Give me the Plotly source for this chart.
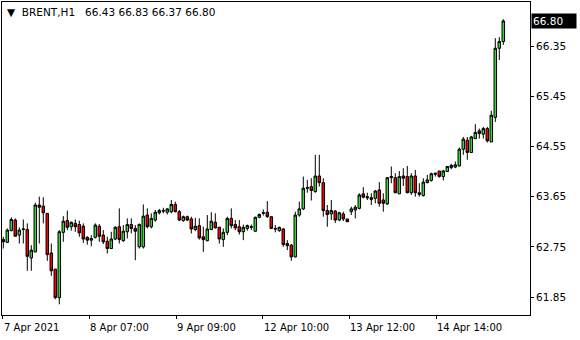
import plotly.graph_objects as go

symbol_title = "BRENT,H1"
last_ohlc = [66.43, 66.83, 66.37, 66.80]

opens = [62.88, 62.83, 63.04, 63.23, 62.96, 63.06, 63.06, 62.55, 62.66, 63.50,
         63.48, 63.35, 62.64, 62.35, 61.84, 63.01, 63.22, 63.11, 63.17, 63.15,
         63.12, 62.92, 62.87, 62.92, 63.12, 62.96, 62.85, 62.72, 62.89, 63.11,
         62.86, 63.02, 63.15, 63.08, 62.75, 62.75, 63.32, 63.11, 63.23, 63.36,
         63.39, 63.37, 63.38, 63.51, 63.38, 63.22, 63.29, 63.25, 63.06, 63.13,
         62.93, 62.86, 63.06, 63.19, 63.10, 62.88, 63.01, 63.26, 63.15, 63.11,
         63.02, 63.08, 63.10, 63.03, 63.28, 63.35, 63.37, 63.29, 63.08, 63.04,
         63.07, 62.81, 62.78, 62.57, 63.32, 63.43, 63.80, 63.83, 63.74, 64.02,
         63.90, 63.40, 63.34, 63.39, 63.23, 63.34, 63.25, 63.38, 63.41, 63.44,
         63.70, 63.65, 63.63, 63.62, 63.77, 63.59, 63.52, 63.99, 63.99, 63.70,
         64.02, 64.01, 63.72, 64.02, 63.72, 63.67, 63.90, 63.94, 64.05, 64.11,
         64.01, 64.10, 64.17, 64.18, 64.20, 64.50, 64.66, 64.44, 64.69, 64.83,
         64.77, 64.87, 64.63, 65.07, 66.31, 66.43]
highs = [62.93, 63.08, 63.28, 63.26, 63.10, 63.24, 63.17, 62.78, 63.54, 63.65,
         63.64, 63.35, 62.81, 62.35, 63.05, 63.30, 63.40, 63.20, 63.24, 63.22,
         63.17, 62.94, 62.96, 63.17, 63.16, 63.05, 62.93, 63.02, 63.12, 63.44,
         63.14, 63.26, 63.26, 63.14, 63.17, 63.51, 63.44, 63.35, 63.41, 63.43,
         63.45, 63.44, 63.59, 63.56, 63.41, 63.31, 63.31, 63.29, 63.27, 63.26,
         63.11, 63.32, 63.37, 63.35, 63.11, 63.08, 63.29, 63.44, 63.23, 63.23,
         63.15, 63.15, 63.15, 63.29, 63.35, 63.42, 63.57, 63.30, 63.14, 63.11,
         63.08, 62.87, 62.80, 63.38, 63.56, 64.01, 63.95, 63.98, 64.40, 64.40,
         63.98, 63.50, 63.59, 63.41, 63.38, 63.38, 63.25, 63.47, 63.50, 63.71,
         63.82, 63.72, 63.71, 63.77, 63.91, 63.71, 63.99, 64.19, 64.07, 64.11,
         64.16, 64.20, 64.07, 64.13, 63.89, 63.98, 64.04, 64.08, 64.07, 64.11,
         64.13, 64.20, 64.24, 64.28, 64.53, 64.72, 64.72, 64.74, 64.95, 64.87,
         64.90, 64.90, 65.19, 66.49, 66.51, 66.83]
lows = [62.72, 62.82, 63.03, 62.93, 62.81, 62.81, 62.32, 62.32, 62.65, 62.81,
        63.17, 62.50, 62.23, 61.81, 61.72, 62.84, 63.05, 63.04, 63.02, 62.93,
        62.82, 62.79, 62.76, 62.90, 62.84, 62.80, 62.63, 62.71, 62.87, 62.81,
        62.84, 62.90, 62.99, 62.51, 62.72, 62.72, 63.08, 63.08, 63.20, 63.33,
        63.35, 63.33, 63.35, 63.37, 63.21, 63.20, 63.21, 62.99, 63.03, 62.88,
        62.66, 62.85, 63.05, 63.08, 62.81, 62.75, 62.96, 63.08, 63.05, 62.97,
        62.87, 63.04, 63.05, 63.02, 63.26, 63.31, 63.27, 63.07, 63.01, 63.02,
        62.75, 62.69, 62.50, 62.56, 63.29, 63.41, 63.72, 63.58, 63.72, 63.83,
        63.29, 63.11, 63.23, 63.18, 63.21, 63.21, 63.20, 63.32, 63.26, 63.42,
        63.62, 63.59, 63.50, 63.53, 63.47, 63.38, 63.50, 63.89, 63.71, 63.70,
        63.84, 63.71, 63.68, 63.65, 63.65, 63.65, 63.89, 63.92, 64.01, 63.99,
        63.94, 64.09, 64.14, 64.16, 64.19, 64.40, 64.31, 64.43, 64.68, 64.69,
        64.69, 64.62, 64.63, 64.99, 66.10, 66.37]
closes = [62.84, 63.05, 63.24, 62.94, 63.05, 63.07, 62.58, 62.69, 63.50, 63.46,
          63.36, 62.61, 62.32, 61.84, 63.02, 63.21, 63.10, 63.19, 63.11, 63.00,
          62.89, 62.87, 62.90, 63.14, 62.94, 62.84, 62.72, 62.89, 63.10, 62.88,
          63.03, 63.15, 63.08, 63.03, 63.15, 63.30, 63.11, 63.26, 63.37, 63.40,
          63.40, 63.43, 63.51, 63.38, 63.23, 63.29, 63.23, 63.07, 63.12, 62.91,
          62.88, 63.07, 63.21, 63.09, 62.89, 63.01, 63.26, 63.13, 63.09, 63.02,
          63.10, 63.13, 63.11, 63.28, 63.33, 63.36, 63.29, 63.08, 63.07, 63.10,
          62.79, 62.77, 62.57, 63.32, 63.43, 63.80, 63.81, 63.76, 64.02, 63.90,
          63.40, 63.33, 63.40, 63.23, 63.36, 63.25, 63.20, 63.43, 63.46, 63.68,
          63.64, 63.63, 63.60, 63.75, 63.53, 63.53, 63.99, 64.01, 63.72, 64.01,
          63.98, 63.72, 64.02, 63.72, 63.69, 63.91, 63.95, 64.06, 64.07, 64.01,
          64.11, 64.19, 64.21, 64.22, 64.50, 64.68, 64.44, 64.72, 64.80, 64.78,
          64.87, 64.65, 65.11, 66.31, 66.43, 66.80]

bars = list(range(len(opens)))

time_labels = ["7 Apr 2021", "8 Apr 07:00", "9 Apr 09:00", "12 Apr 10:00",
               "13 Apr 12:00", "14 Apr 14:00"]
time_label_bars = [-0.15, 21.5, 43.2, 64.85, 86.5, 108.2]

price_ticks = [61.85, 62.75, 63.65, 64.55, 65.45, 66.35]

FONT = "DejaVu Sans"

fig = go.Figure(go.Candlestick(
    x=bars, open=opens, high=highs, low=lows, close=closes,
    increasing=dict(fillcolor="#3CD23C", line=dict(color="black", width=1)),
    decreasing=dict(fillcolor="#F00000", line=dict(color="black", width=1)),
    whiskerwidth=0, hoverinfo="skip",
))

annotations = []
for xb, lab in zip(time_label_bars, time_labels):
    annotations.append(dict(
        x=xb, y=0, xref="x", yref="paper", text=lab, showarrow=False,
        xanchor="left", yanchor="top", yshift=-5, xshift=-1,
        font=dict(family=FONT, size=10, color="black")))

annotations.append(dict(
    x=0, y=1, xref="paper", yref="paper", xanchor="left", yanchor="top",
    xshift=3, yshift=-2, showarrow=False,
    text="▼\u00a0\u00a0" + symbol_title + "\u00a0\u00a0\u00a0"
         + " ".join(f"{v:.2f}" for v in last_ohlc),
    font=dict(family=FONT, size=10.5, color="black")))

annotations.append(dict(
    x=1, y=closes[-1], xref="paper", yref="y", xanchor="left", yanchor="middle",
    xshift=1, showarrow=False, text=f"{closes[-1]:.2f}",
    bgcolor="black", borderpad=1, width=42, height=12, align="left",
    font=dict(family=FONT, size=10.5, color="white")))

fig.update_layout(
    width=580, height=340,
    margin=dict(l=2, r=50, t=2, b=25),
    paper_bgcolor="white", plot_bgcolor="white",
    showlegend=False,
    boxgap=0.1,
    annotations=annotations,
    xaxis=dict(
        range=[-0.325, 131.675], rangeslider=dict(visible=False),
        showgrid=False, zeroline=False,
        showline=True, mirror=True, linecolor="black", linewidth=1,
        tickmode="array", tickvals=time_label_bars, showticklabels=False,
        ticks="outside", ticklen=3, tickcolor="black", tickwidth=1,
        fixedrange=True,
    ),
    yaxis=dict(
        range=[61.528, 67.139], side="right",
        showgrid=False, zeroline=False,
        showline=True, mirror=True, linecolor="black", linewidth=1,
        tickmode="array", tickvals=price_ticks,
        ticktext=[f"{v:.2f}" for v in price_ticks],
        ticks="outside", ticklen=3, tickcolor="black", tickwidth=1,
        tickfont=dict(family=FONT, size=10.5, color="black"),
        fixedrange=True,
    ),
)

fig.write_html("out.html", config={"displayModeBar": False})
